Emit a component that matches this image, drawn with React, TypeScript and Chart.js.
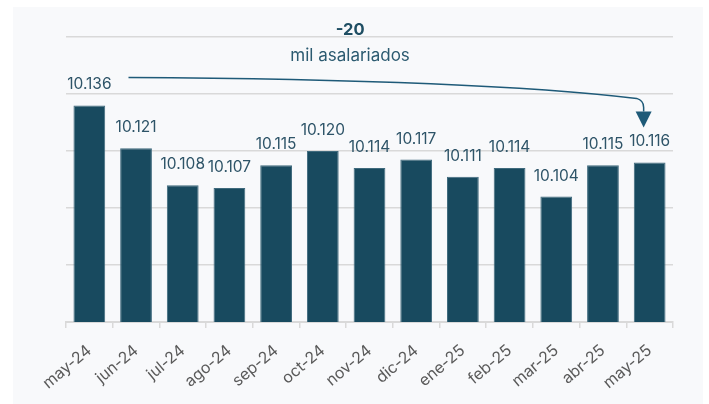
import React, { useEffect, useRef } from "react";
import { Chart, registerables } from "chart.js";

Chart.register(...registerables);

const categories = ["may-24", "jun-24", "jul-24", "ago-24", "sep-24", "oct-24", "nov-24", "dic-24", "ene-25", "feb-25", "mar-25", "abr-25", "may-25"];
const asalariados = [10136, 10121, 10108, 10107, 10115, 10120, 10114, 10117, 10111, 10114, 10104, 10115, 10116];
const yMin = 10060;
const yMax = 10160;
const yStep = 20;
const unitLabel = "mil asalariados";

const FONT = "Inter, 'Open Sans', sans-serif";
const BAR = "#184a5f";
const LABEL = "#2e5468";
const ARROW = "#1e5a78";
const GRID = "#d9d9d9";

const fmt = (v: number) => (v / 1000).toFixed(3);

const panelPlugin = {
  id: "panel",
  beforeDraw(chart: any) {
    const ctx = chart.ctx;
    ctx.save();
    ctx.fillStyle = "#f8f9fb";
    ctx.fillRect(13, 7, chart.width - 19, chart.height - 7);
    ctx.restore();
  },
};

const valueLabels = {
  id: "valueLabels",
  afterDatasetsDraw(chart: any) {
    const ctx = chart.ctx;
    const meta = chart.getDatasetMeta(0);
    ctx.save();
    ctx.fillStyle = LABEL;
    ctx.font = `15.5px ${FONT}`;
    ctx.textAlign = "center";
    ctx.textBaseline = "alphabetic";
    meta.data.forEach((bar: any, i: number) => {
      ctx.fillText(fmt(asalariados[i]), bar.x, bar.y - 16);
    });
    ctx.restore();
  },
};

const arrowPlugin = {
  id: "arrowNote",
  afterDraw(chart: any) {
    const ctx = chart.ctx;
    const meta = chart.getDatasetMeta(0);
    const first = meta.data[0];
    const last = meta.data[meta.data.length - 1];
    const area = chart.chartArea;
    ctx.save();
    ctx.font = `15.5px ${FONT}`;
    const w = ctx.measureText(fmt(asalariados[0])).width;
    const sx = first.x + w / 2 + 17;
    const sy = first.y - 28;
    const ex = last.x - 6;
    const tipY = last.y - 35;
    ctx.strokeStyle = ARROW;
    ctx.lineWidth = 1.5;
    ctx.beginPath();
    ctx.moveTo(sx, sy);
    ctx.quadraticCurveTo(sx + (ex - sx) * 0.68, sy + 2, ex - 7, sy + 21);
    ctx.quadraticCurveTo(ex, sy + 23, ex, sy + 30);
    ctx.lineTo(ex, tipY - 16);
    ctx.stroke();
    ctx.fillStyle = ARROW;
    ctx.beginPath();
    ctx.moveTo(ex - 8, tipY - 16);
    ctx.lineTo(ex + 8, tipY - 16);
    ctx.lineTo(ex, tipY);
    ctx.closePath();
    ctx.fill();

    const diff = asalariados[asalariados.length - 1] - asalariados[0];
    const cx = area.left + (area.right - area.left) * 0.468;
    ctx.textAlign = "center";
    ctx.textBaseline = "alphabetic";
    ctx.fillStyle = "#1f4e63";
    ctx.font = `bold 16.5px ${FONT}`;
    ctx.fillText(String(diff), cx, 35);
    ctx.fillStyle = "#2b5a70";
    ctx.font = `17px ${FONT}`;
    ctx.fillText(unitLabel, cx, 61);
    ctx.restore();
  },
};

export default function App() {
  const ref = useRef<HTMLCanvasElement | null>(null);
  useEffect(() => {
    if (!ref.current) return;
    const chart = new Chart(ref.current, {
      type: "bar",
      data: {
        labels: categories,
        datasets: [
          {
            data: asalariados,
            backgroundColor: BAR,
            borderColor: "#3f6a7d",
            borderWidth: 1,
            barPercentage: 0.85,
            categoryPercentage: 0.8,
          },
        ],
      },
      options: {
        animation: false,
        responsive: false,
        devicePixelRatio: 1,
        layout: { padding: { left: 66, right: 36, top: 37, bottom: 0 } },
        plugins: { legend: { display: false }, tooltip: { enabled: false } },
        scales: {
          x: {
            grid: { display: true, drawOnChartArea: false, drawTicks: true, tickLength: 6, color: GRID, lineWidth: 1.5, offset: true },
            border: { display: true, color: GRID, width: 2 },
            ticks: { color: "#5a5a5a", font: { family: FONT, size: 16 }, minRotation: 40, maxRotation: 40, autoSkip: false, padding: 13 },
            afterFit: (axis: any) => { axis.height = 82; },
          },
          y: {
            min: yMin,
            max: yMax,
            ticks: { display: false, stepSize: yStep },
            grid: { color: GRID, lineWidth: 1.5, drawTicks: false },
            border: { display: false },
            afterFit: (axis: any) => { axis.width = 0; },
          },
        },
      },
      plugins: [panelPlugin, valueLabels, arrowPlugin],
    });
    return () => chart.destroy();
  }, []);
  return (
    <div style={{ position: "absolute", left: 0, top: 0, width: 709, height: 404, background: "#fff" }}>
      <canvas ref={ref} width={709} height={404} style={{ width: 709, height: 404, display: "block" }} />
    </div>
  );
}
